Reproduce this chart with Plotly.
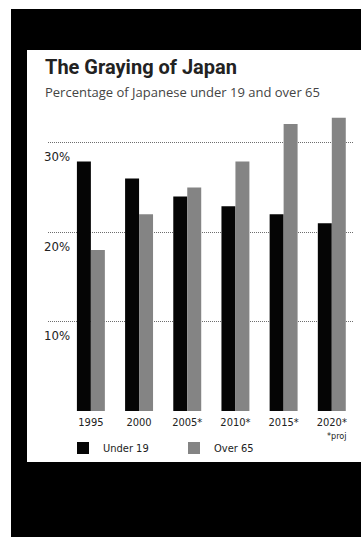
import plotly.graph_objects as go

# ---- data ----
years = ["1995", "2000", "2005*", "2010*", "2015*", "2020*"]
under19 = [27.9, 26.0, 24.0, 22.9, 22.0, 21.0]
over65 = [18.0, 22.0, 25.0, 27.9, 32.1, 32.8]
tick_vals = [10, 20, 30]
tick_text = ["10%", "20%", "30%"]

W, H = 361, 537
L, R, T, B = 48, 8, 107, 126
PW, PH = W - L - R, H - T - B

def px(x):
    return (x - L) / PW

def py(y):
    return (H - B - y) / PH

COND = "DejaVu Sans Condensed, Liberation Sans Narrow, Arial Narrow, sans-serif"

fig = go.Figure()
fig.add_trace(go.Bar(x=years, y=under19, name="Under 19",
                     marker=dict(color="#050505", line=dict(width=0))))
fig.add_trace(go.Bar(x=years, y=over65, name="Over 65",
                     marker=dict(color="#848484", line=dict(width=0))))

white = "#ffffff"
shapes = [
    dict(type="rect", xref="paper", yref="paper", layer="below",
         x0=px(-5), x1=px(11), y0=py(-5), y1=py(H + 5),
         fillcolor=white, line=dict(width=0)),
    dict(type="rect", xref="paper", yref="paper", layer="below",
         x0=px(-5), x1=px(W + 5), y0=py(-5), y1=py(9),
         fillcolor=white, line=dict(width=0)),
    dict(type="rect", xref="paper", yref="paper", layer="below",
         x0=px(27), x1=px(W + 5), y0=py(50), y1=py(462),
         fillcolor=white, line=dict(width=0)),
]

annotations = [
    dict(text="<b>The Graying of Japan</b>", xref="paper", yref="paper",
         x=px(43), y=py(67), xanchor="left", yanchor="middle", showarrow=False,
         font=dict(family="Roboto, Arial, sans-serif", size=20, color="#222")),
    dict(text="Percentage of Japanese under 19 and over 65", xref="paper", yref="paper",
         x=px(43), y=py(92), xanchor="left", yanchor="middle", showarrow=False,
         font=dict(family="Open Sans, Arial, sans-serif", size=13, color="#444")),
    dict(text="*proj", xref="paper", yref="paper",
         x=px(337), y=py(436), xanchor="center", yanchor="middle", showarrow=False,
         font=dict(family=COND, size=9, color="#222")),
]

fig.update_layout(
    width=W, height=H,
    margin=dict(l=L, r=R, t=T, b=B, pad=0),
    paper_bgcolor="#000000", plot_bgcolor=white,
    barmode="group", bargap=0.42, bargroupgap=0,
    shapes=shapes, annotations=annotations,
    showlegend=True,
    legend=dict(orientation="h", x=px(63), y=py(448), xanchor="left", yanchor="middle",
                entrywidth=66, entrywidthmode="pixels", itemwidth=30,
                font=dict(family=COND, size=11, color="#222"),
                bgcolor="rgba(0,0,0,0)", borderwidth=0, tracegroupgap=0),
    xaxis=dict(range=[-0.89, 5.44], showgrid=False, zeroline=False, showline=False,
               ticks="", ticklabelstandoff=3,
               tickfont=dict(family=COND, size=11, color="#222"),
               fixedrange=True),
    yaxis=dict(range=[0, 34], tickvals=tick_vals, ticktext=tick_text,
               showgrid=True, gridcolor="#6e6e6e", griddash="1px,1px", gridwidth=1,
               zeroline=False, showline=False, ticks="",
               ticklabelposition="inside", ticklabelshift=14, ticklabelstandoff=-7,
               tickfont=dict(family=COND, size=13, color="#222"), fixedrange=True),
)

fig.write_html("out.html", config={"displayModeBar": False})
